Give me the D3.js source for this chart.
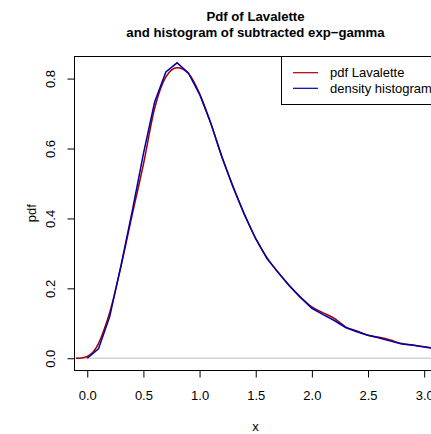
<!DOCTYPE html>
<html><head><meta charset="utf-8">
<script src="https://cdn.jsdelivr.net/npm/d3@7"></script>
<style>body{margin:0;background:#fff}svg{display:block}text{font-family:"Liberation Sans",Arial,Helvetica,sans-serif;fill:#000}</style>
</head><body><script>
// Data
const redX = [-0.1, -0.05, 0, 0.05, 0.1, 0.15, 0.2, 0.3, 0.4, 0.5, 0.6, 0.7, 0.8, 0.9, 1.0, 1.1, 1.2, 1.3, 1.4, 1.5, 1.6, 1.7, 1.8, 1.9, 2.0, 2.1, 2.2, 2.3, 2.4, 2.5, 2.6, 2.7, 2.8, 2.9, 3.0, 3.1];
const redY = [0.0, 0.001, 0.005, 0.017, 0.042, 0.082, 0.131, 0.262, 0.410, 0.555, 0.715, 0.805, 0.831, 0.815, 0.757, 0.672, 0.574, 0.490, 0.412, 0.342, 0.288, 0.246, 0.208, 0.175, 0.147, 0.130, 0.114, 0.090, 0.078, 0.066, 0.060, 0.052, 0.042, 0.038, 0.033, 0.028];
const blueX = [0, 0.1, 0.2, 0.3, 0.4, 0.5, 0.6, 0.7, 0.8, 0.9, 1.0, 1.1, 1.2, 1.3, 1.4, 1.5, 1.6, 1.7, 1.8, 1.9, 2.0, 2.1, 2.2, 2.3, 2.4, 2.5, 2.6, 2.7, 2.8, 2.9, 3.0, 3.1];
const blueY = [0, 0.027, 0.119, 0.265, 0.420, 0.585, 0.733, 0.819, 0.845, 0.816, 0.755, 0.672, 0.576, 0.488, 0.410, 0.342, 0.285, 0.245, 0.207, 0.173, 0.143, 0.125, 0.108, 0.088, 0.076, 0.066, 0.058, 0.049, 0.041, 0.037, 0.032, 0.028];
const xTicks = [0, 0.5, 1.0, 1.5, 2.0, 2.5, 3.0];
const yTicks = [0, 0.2, 0.4, 0.6, 0.8];
const titleLines = ["Pdf of Lavalette", "and histogram of subtracted exp\u2212gamma"];
const legendLabels = ["pdf Lavalette", "density histogram"];
const seriesColors = ["#a00000", "#0000a8"];

const W = 431, H = 434;
const L = 74, R = 437, T = 56, B = 370.5;
const FONT = 13;
const x = d3.scaleLinear().domain([-0.118, 3.114]).range([L, R]);
const y = d3.scaleLinear().domain([-0.035, 0.8646]).range([B, T]);

const svg = d3.select("body").append("svg").attr("width", W).attr("height", H);
svg.append("defs").append("clipPath").attr("id", "clip")
  .append("rect").attr("x", L).attr("y", T).attr("width", R - L).attr("height", B - T);

// zero reference line
svg.append("line").attr("x1", L).attr("x2", R).attr("y1", y(0)).attr("y2", y(0))
  .attr("stroke", "#d3d3d3").attr("stroke-width", 1.5);

const g = svg.append("g").attr("clip-path", "url(#clip)");
const redData = redX.map((v, i) => [v, redY[i]]);
const blueData = blueX.map((v, i) => [v, blueY[i]]);
g.append("path").datum(redData)
  .attr("d", d3.line().x(d => x(d[0])).y(d => y(d[1])).curve(d3.curveMonotoneX))
  .attr("fill", "none").attr("stroke", seriesColors[0]).attr("stroke-width", 1.5);
g.append("path").datum(blueData)
  .attr("d", d3.line().x(d => x(d[0])).y(d => y(d[1])))
  .attr("fill", "none").attr("stroke", seriesColors[1]).attr("stroke-width", 1.5);

// box
svg.append("rect").attr("x", L + 0.5).attr("y", T + 0.5).attr("width", R - L).attr("height", B - T - 0.5)
  .attr("fill", "none").attr("stroke", "#000").attr("stroke-width", 1);

// x axis
const xAxis = svg.append("g").attr("transform", `translate(0,${B})`)
  .call(d3.axisBottom(x).tickValues(xTicks).tickFormat(d3.format(".1f")).tickSize(7).tickSizeOuter(0));
xAxis.select(".domain").attr("d", `M${x(0)},0H${x(3)}`).attr("stroke", "#000");
xAxis.selectAll(".tick line").attr("stroke", "#000");
xAxis.selectAll(".tick text").attr("y", 29.5).attr("dy", 0).attr("font-size", FONT)
  .style("font-family", '"Liberation Sans",Arial,sans-serif');

// y axis
const yAxis = svg.append("g").attr("transform", `translate(${L + 0.5},0)`)
  .call(d3.axisLeft(y).tickValues(yTicks).tickFormat(d3.format(".1f")).tickSize(7).tickSizeOuter(0));
yAxis.select(".domain").attr("d", `M0,${y(0)}V${y(0.8)}`).attr("stroke", "#000");
yAxis.selectAll(".tick line").attr("stroke", "#000");
yAxis.selectAll(".tick text").attr("transform", "rotate(-90)").attr("x", 0).attr("y", -19.5)
  .attr("dy", 0).attr("text-anchor", "middle").attr("font-size", FONT)
  .style("font-family", '"Liberation Sans",Arial,sans-serif');

// titles
svg.append("text").attr("x", (L + R) / 2).attr("y", 21).attr("text-anchor", "middle")
  .attr("font-size", 13.2).attr("font-weight", "bold").text(titleLines[0]);
svg.append("text").attr("x", (L + R) / 2).attr("y", 36.5).attr("text-anchor", "middle")
  .attr("font-size", 13.2).attr("font-weight", "bold").text(titleLines[1]);
svg.append("text").attr("x", (L + R) / 2).attr("y", 431).attr("text-anchor", "middle")
  .attr("font-size", FONT).text("x");
svg.append("text").attr("transform", `translate(36,${(T + B) / 2}) rotate(-90)`)
  .attr("text-anchor", "middle").attr("font-size", FONT).text("pdf");

// legend
const lg = svg.append("g");
lg.append("rect").attr("x", 281.5).attr("y", T + 0.5).attr("width", R - 281.5).attr("height", 104 - T)
  .attr("fill", "#fff").attr("stroke", "#000").attr("stroke-width", 1);
legendLabels.forEach((lab, i) => {
  const yy = 72.7 + i * 15.6;
  lg.append("line").attr("x1", 293).attr("x2", 318).attr("y1", yy).attr("y2", yy)
    .attr("stroke", seriesColors[i]).attr("stroke-width", 1.2);
  lg.append("text").attr("x", 330).attr("y", yy + 4.6).attr("font-size", FONT).text(lab);
});
</script></body></html>
